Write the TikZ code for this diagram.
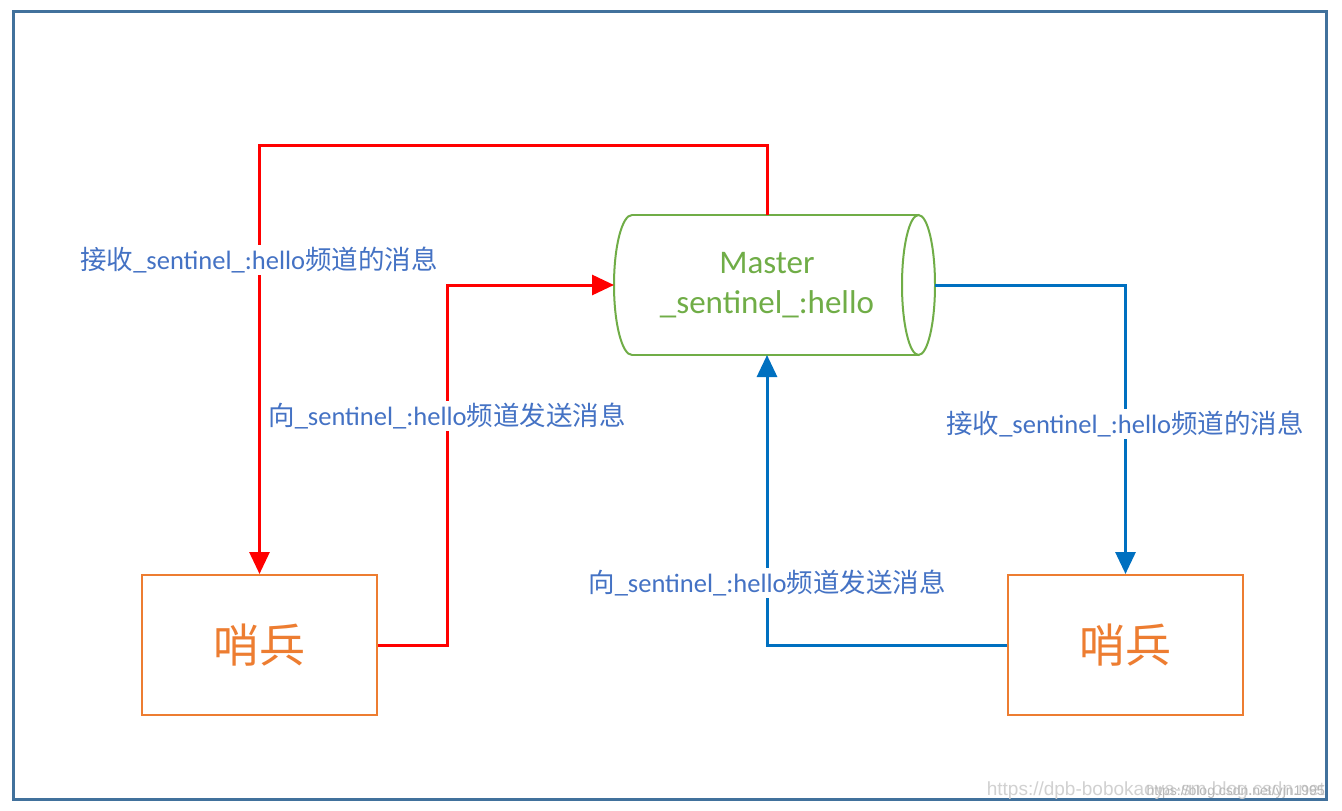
\documentclass[tikz,border=0pt]{standalone}
\usepackage{fontspec}
\setmainfont{Carlito}
\newfontfamily\cjk{Noto Sans CJK SC}
\newfontfamily\wmfont{Liberation Sans}
\usetikzlibrary{arrows.meta}
\definecolor{framecol}{HTML}{41719C}
\definecolor{redcol}{HTML}{FF0000}
\definecolor{bluecol}{HTML}{0070C0}
\definecolor{greencol}{HTML}{70AD47}
\definecolor{orangecol}{HTML}{ED7D31}
\definecolor{labelcol}{HTML}{4472C4}
\tikzset{
  sbox/.style={draw=orangecol, line width=2pt, minimum width=235pt, minimum height=140pt, inner sep=0pt, text=orangecol, font=\fontsize{46}{50}\selectfont\cjk},
  redline/.style={draw=redcol, line width=3pt, -{Triangle[width=20pt,length=22pt]}},
  blueline/.style={draw=bluecol, line width=3pt, -{Triangle[width=20pt,length=22pt]}},
  lbl/.style={fill=white, text=labelcol, inner sep=2pt, font=\fontsize{26.5}{30}\selectfont},
  cyl/.style={draw=greencol, line width=2pt}
}
\begin{document}
\begin{tikzpicture}[x=1pt,y=1pt]
\useasboundingbox (0,0) rectangle (1342,-811);
\fill[white] (0,0) rectangle (1342,-811);
\draw[framecol, line width=3pt] (13.5,-11.5) rectangle (1326,-799.5);
% sentinel boxes
\node[sbox] (s1) at (259.5,-645) {哨兵};
\node[sbox] (s2) at (1125.5,-645) {哨兵};
% master cylinder
\draw[cyl] (632,-215) -- (918.5,-215) (632,-355) -- (918.5,-355);
\draw[cyl] (632,-215) arc[start angle=90, end angle=270, x radius=18pt, y radius=70pt];
\draw[cyl] (918.5,-285) ellipse [x radius=16.5pt, y radius=70pt];
\node[text=greencol, align=center, font=\fontsize{33}{40}\selectfont] (master) at (767,-285) {Master\\\_sentinel\_:hello};
\coordinate (mtop) at (767,-215);
\coordinate (mleft) at (614,-285);
\coordinate (mright) at (935,-285);
\coordinate (mbot) at (767,-355);
% connectors
\draw[redline] (mtop) -- (767,-145) -| (s1.north);
\draw[redline] (s1.east) -| (447,-285) -- (mleft);
\draw[blueline] (mright) -| (s2.north);
\draw[blueline] (s2.west) -| (mbot);
% labels
\node[lbl] (l1) at (259,-260) {{\cjk 接收}\_sentinel\_:hello{\cjk 频道的消息}};
\node[lbl] (l2) at (447,-416) {{\cjk 向}\_sentinel\_:hello{\cjk 频道发送消息}};
\node[lbl] (l3) at (1125,-424) {{\cjk 接收}\_sentinel\_:hello{\cjk 频道的消息}};
\node[lbl] (l4) at (767,-583) {{\cjk 向}\_sentinel\_:hello{\cjk 频道发送消息}};
% watermark
\node[anchor=base east, text=black!18, inner sep=0pt, font=\fontsize{19}{20}\wmfont] (wm1) at (1325,-795) {https://dpb-bobokaoya-sm.blog.csdn.net};
\node[anchor=base east, text=black!28, inner sep=0pt, font=\fontsize{14}{16}\wmfont] (wm2) at (1325,-795) {https://blog.csdn.net/yjn1995};
\end{tikzpicture}
\end{document}
